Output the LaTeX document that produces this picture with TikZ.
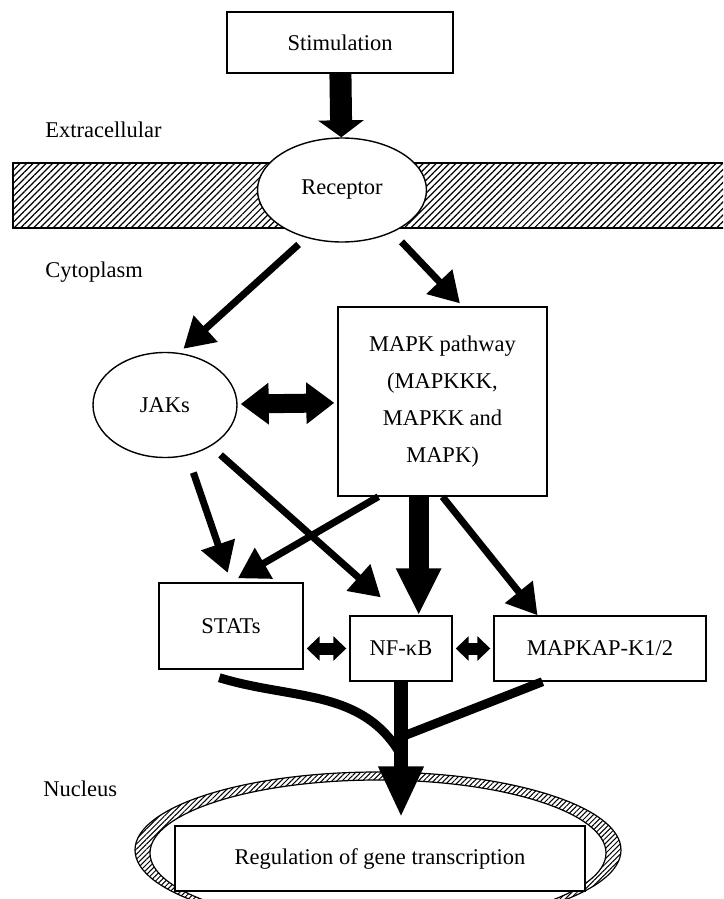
\documentclass[tikz,border=0pt]{standalone}
\usepackage{fontspec}
\setmainfont{Liberation Serif}
\usepackage{tikz}
\usetikzlibrary{arrows.meta,shapes.geometric,patterns.meta}

\begin{document}
\begin{tikzpicture}[x=0.5pt,y=-0.5pt,
    font=\fontsize{11.25}{18.5}\selectfont,
    box/.style={draw, line width=0.7pt, fill=white, inner sep=0pt},
    oval/.style={ellipse, draw, line width=0.7pt, fill=white, inner sep=0pt},
    region/.style={anchor=west, inner sep=0pt},
    slim/.style={line width=3.5pt, -{Triangle[width=17pt,length=15pt]}},
    fat/.style n args={3}{line width=#1, -{Triangle[width=#2,length=#3]}},
    twoway/.style n args={3}{line width=#1, {Triangle[width=#2,length=#3]}-{Triangle[width=#2,length=#3]}},
    merge/.style={line width=4.5pt}]
  \useasboundingbox (0,0) rectangle (723,899);
  \fill[pattern={Lines[angle=45,distance=2.3pt,line width=0.6pt]}] (13,163) rectangle (723,228);
  \draw[line width=0.7pt] (723,163) -- (13,163) -- (13,228) -- (723,228);
  \begin{scope}
    \clip (0,0) rectangle (723,899);
    \fill[even odd rule, pattern={Lines[angle=45,distance=1.8pt,line width=0.5pt]}] (378,850) ellipse [x radius=121.5pt, y radius=39pt] (378,853) ellipse [x radius=114pt, y radius=36.5pt];
    \draw[line width=0.6pt] (378,850) ellipse [x radius=121.5pt, y radius=39pt] (378,853) ellipse [x radius=114pt, y radius=36.5pt];
  \end{scope}

  \node[box, minimum width=113pt, minimum height=30.5pt] (stim) at (340,42.5) {Stimulation};
  \node[oval, minimum width=84.5pt, minimum height=52pt] (receptor) at (342,190) {Receptor};
  \node[oval, minimum width=72pt, minimum height=52.5pt] (jaks) at (165,405) {JAKs};
  \node[box, minimum width=104.5pt, minimum height=94.5pt, align=center] (mapk) at (442.5,401.5) {MAPK pathway\\(MAPKKK,\\MAPKK and\\MAPK)};
  \node[box, minimum width=72pt, minimum height=43pt] (stats) at (231,626) {STATs};
  \node[box, minimum width=51pt, minimum height=32.5pt] (nfkb) at (401,648.5) {NF-κB};
  \node[box, minimum width=106pt, minimum height=32.5pt] (mapkap) at (600,648.5) {MAPKAP-K1/2};
  \node[box, minimum width=205pt, minimum height=32.5pt] (reg) at (380,858.5) {Regulation of gene transcription};
  \node[region] (extra) at (45,130) {Extracellular};
  \node[region] (cyto) at (45,272) {Cytoplasm};
  \node[region] (nuc) at (43,789) {Nucleus};
  \coordinate (hubL) at (401,755);
  \coordinate (hubR) at (401,737);

  \draw[fat={11pt}{22.5pt}{8.5pt}] (stim) -- (receptor);
  \draw[slim, shorten <=5pt, shorten >=3pt] (receptor.-127) -- (jaks.75);
  \draw[slim, shorten <=6.5pt, shorten >=2pt] (receptor.-40) -- (mapk.78);
  \draw[twoway={9.5pt}{20pt}{14pt}, shorten <=1.5pt, shorten >=1.5pt] (jaks) -- (mapk);
  \draw[slim, shorten <=9pt, shorten >=5pt] (jaks.-66) -- (stats.north);
  \draw[slim, shorten >=4pt] (mapk.-124) -- (stats.north);
  \draw[slim, shorten <=6.5pt, shorten >=13.5pt] (jaks.-42) -- (nfkb.north);
  \draw[fat={10pt}{21pt}{23.5pt}] (nfkb.62 |- mapk.south) -- (nfkb.62);
  \draw[slim] (mapk.south) -- (mapkap.152);
  \draw[twoway={6pt}{12pt}{6.5pt}, shorten <=1.5pt, shorten >=1.5pt] (stats.east |- nfkb) -- (nfkb.west);
  \draw[twoway={6pt}{12pt}{6.5pt}, shorten <=1.5pt, shorten >=1.5pt] (nfkb) -- (mapkap);
  \draw[merge] ([yshift=-4pt]stats.-105) to[out=-17,in=120] (hubL);
  \draw[merge] (mapkap.-150) -- (hubR);
  \draw[fat={7pt}{21pt}{25.5pt}, shorten >=4pt] (nfkb.south) -- (nfkb.south |- reg.north);
\end{tikzpicture}
\end{document}
